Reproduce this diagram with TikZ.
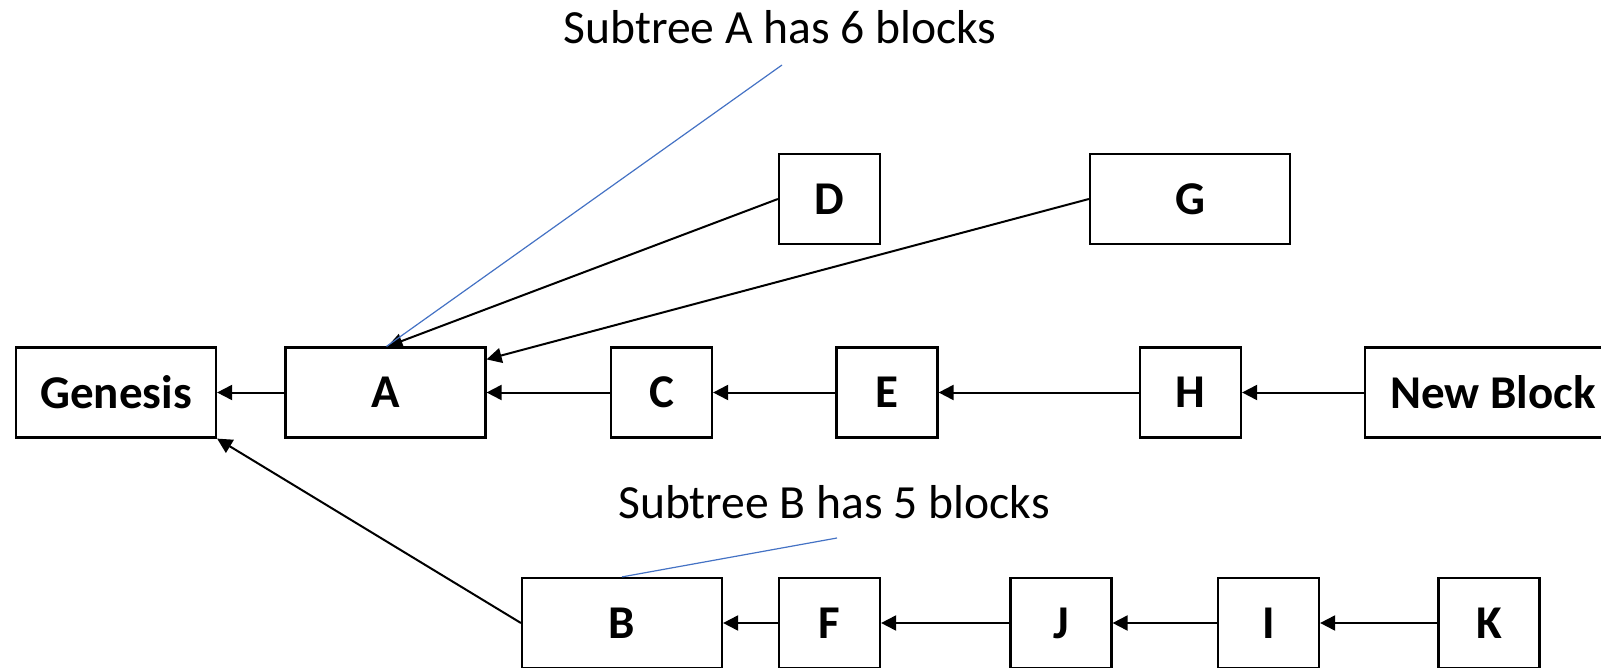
\documentclass[tikz,border=0pt]{standalone}
\usepackage{fontspec}
\setmainfont{Carlito}
\usetikzlibrary{arrows.meta}
\definecolor{calloutblue}{RGB}{68,114,196}
\tikzset{
  blk/.style={draw=black, line width=2.2pt, minimum height=90pt, inner sep=0pt,
    font=\fontsize{47}{56}\selectfont\bfseries},
  narrow/.style={blk, minimum width=101pt},
  wide/.style={blk, minimum width=200pt},
  link/.style={draw=black, line width=2pt, -{Triangle[length=15pt,width=15pt]}},
  callout/.style={draw=calloutblue, line width=1.2pt},
  note/.style={inner sep=0pt, font=\fontsize{47.6}{56}\selectfont}
}
\begin{document}
\begin{tikzpicture}[x=1pt, y=-1pt]
  \useasboundingbox (0,0) rectangle (1601,668);

  % main chain
  \node[wide]   (gen) at (116,392.5)  {Genesis};
  \node[wide]   (A)   at (385.5,392.5) {A};
  \node[narrow] (C)   at (661.5,392.5) {C};
  \node[narrow] (E)   at (887,392.5)   {E};
  \node[narrow] (H)   at (1190.5,392.5) {H};
  \node[blk, minimum width=256pt] (new) at (1493,392.5) {New Block};

  % side branches of A
  \node[narrow] (D) at (829.5,199) {D};
  \node[wide]   (G) at (1190,199)  {G};

  % second subtree
  \node[wide]   (B) at (622,623)    {B};
  \node[narrow] (F) at (829.5,623)  {F};
  \node[narrow] (J) at (1061,623)   {J};
  \node[narrow] (I) at (1268.5,623) {I};
  \node[narrow] (K) at (1489,623)   {K};

  % parent links
  \draw[link] (A) -- (gen);
  \draw[link] (C) -- (A);
  \draw[link] (E) -- (C);
  \draw[link] (H) -- (E);
  \draw[link] (new) -- (H);
  \draw[link] (D.west) -- ([xshift=2pt]A.north);
  \draw[link] (G.west) -- ([yshift=-13pt]A.north east);
  \draw[link] (B.west) -- (gen.south east);
  \draw[link] (F) -- (B);
  \draw[link] (J) -- (F);
  \draw[link] (I) -- (J);
  \draw[link] (K) -- (I);

  % subtree annotations
  \node[note] (ta) at (780,27)  {Subtree A has 6 blocks};
  \node[note] (tb) at (834,502) {Subtree B has 5 blocks};
  \coordinate (ca) at (782,65);
  \coordinate (cb) at (837,538);
  \draw[callout] (ca) -- ([xshift=1pt]A.north);
  \draw[callout] (cb) -- (B.north);
\end{tikzpicture}
\end{document}
